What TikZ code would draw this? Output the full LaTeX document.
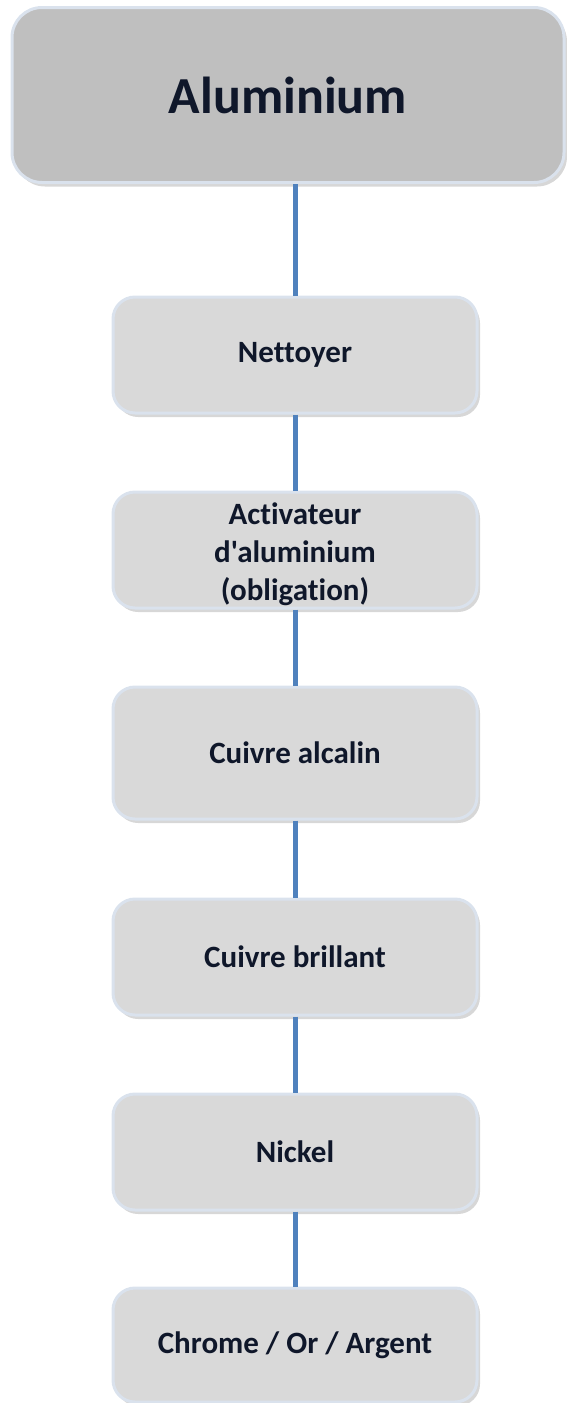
\documentclass[tikz,border=0pt]{standalone}
\usepackage{fontspec}
\setmainfont[Ligatures={CommonOff,TeXOff}]{Carlito}
\usetikzlibrary{shadows}
\definecolor{txtc}{RGB}{15,23,42}
\definecolor{edgec}{RGB}{218,226,237}
\definecolor{topfill}{RGB}{191,191,191}
\definecolor{boxfill}{RGB}{217,217,217}
\definecolor{linkc}{RGB}{79,129,189}
\begin{document}
\begin{tikzpicture}[x=1pt,y=-1pt,
  basebox/.style={draw=edgec, line width=3pt, rounded corners=22pt,
    text=txtc, font=\bfseries\fontsize{31}{38}\selectfont, align=center,
    inner sep=0pt, minimum width=364pt,
    drop shadow={shadow xshift=3pt, shadow yshift=-4pt, opacity=0.35, fill=black!45}},
  stepbox/.style={basebox, fill=boxfill, minimum height=116pt},
  topbox/.style={basebox, fill=topfill, rounded corners=30pt,
    minimum width=552pt, minimum height=175pt,
    font=\bfseries\fontsize{52}{60}\selectfont},
  link/.style={draw=linkc, line width=5pt}]
\useasboundingbox (0,0) rectangle (567,1403);
\node[topbox] (top) at (288,95) {Aluminium};
\node[stepbox] (b2) at (295,355) {Nettoyer};
\node[stepbox] (b3) at (295,550) {\raisebox{-5pt}[\height][\depth]{\begin{tabular}{@{}c@{}}Activateur\\d'aluminium\\(obligation)\end{tabular}}};
\node[stepbox, minimum height=132pt] (b4) at (295,753) {Cuivre alcalin};
\node[stepbox] (b5) at (295,957) {Cuivre brillant};
\node[stepbox] (b6) at (295,1152) {Nickel};
\node[stepbox, minimum height=114pt] (b7) at (295,1345) {Chrome / Or / Argent};
\draw[link] (top.south -| b2.north) -- (b2.north);
\draw[link] (b2.south) -- (b3.north);
\draw[link] (b3.south) -- (b4.north);
\draw[link] (b4.south) -- (b5.north);
\draw[link] (b5.south) -- (b6.north);
\draw[link] (b6.south) -- (b7.north);
\end{tikzpicture}
\end{document}
